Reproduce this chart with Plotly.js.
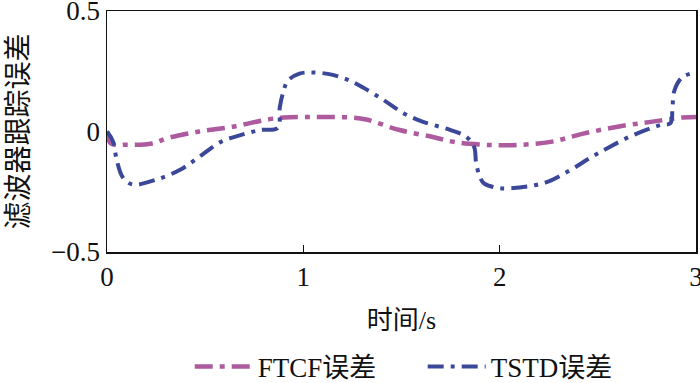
<!DOCTYPE html>
<html>
<head>
<meta charset="utf-8">
<script src="https://cdn.plot.ly/plotly-3.0.1.min.js"></script>
<style>html,body{margin:0;padding:0;background:#fff;}#chart{width:700px;height:383px;}</style>
</head>
<body>
<div id="chart"></div>
<script>
const ftcfT = [0, 0.02, 0.1, 0.23, 0.31, 0.47, 0.64, 0.82, 0.9, 1.0, 1.1, 1.24, 1.32, 1.49, 1.66, 1.78, 1.92, 2.0, 2.09, 2.26, 2.42, 2.6, 2.77, 2.93, 3.0];
const ftcfV = [0, -0.05, -0.055, -0.05, -0.027, 0, 0.02, 0.05, 0.058, 0.06, 0.06, 0.058, 0.05, 0.006, -0.023, -0.045, -0.055, -0.057, -0.056, -0.043, -0.01, 0.02, 0.04, 0.058, 0.06];

const tstdT = [0, 0.03, 0.05, 0.08, 0.13, 0.25, 0.37, 0.47, 0.58, 0.68, 0.78, 0.87, 0.88, 0.9, 0.92, 0.98, 1.05, 1.15, 1.24, 1.31, 1.41, 1.51, 1.61, 1.75, 1.83, 1.87, 1.88, 1.9, 1.92, 2.0, 2.12, 2.24, 2.36, 2.46, 2.56, 2.68, 2.82, 2.87, 2.88, 2.89, 2.93, 3.0];
const tstdV = [0, -0.04, -0.12, -0.19, -0.22, -0.2, -0.16, -0.105, -0.043, -0.015, 0.006, 0.015, 0.1, 0.17, 0.21, 0.24, 0.245, 0.235, 0.21, 0.18, 0.13, 0.076, 0.04, 0.006, -0.022, -0.064, -0.13, -0.19, -0.215, -0.235, -0.23, -0.21, -0.16, -0.11, -0.064, -0.015, 0.027, 0.035, 0.1, 0.17, 0.225, 0.245];

const names = ['FTCF误差', 'TSTD误差'];
const xTicks = [0, 1, 2, 3];
const yTicks = [-0.5, 0, 0.5];
const yTickText = ['−0.5', '0', '0.5'];

const traces = [
  {x: ftcfT, y: ftcfV, name: names[0], mode: 'lines', line: {color: '#ad5a9e', width: 4.5, dash: '18px,7px,5px,7px', shape: 'spline'}},
  {x: tstdT, y: tstdV, name: names[1], mode: 'lines', line: {color: '#3b4899', width: 4, dash: '16px,7px,4px,7px', shape: 'spline'}}
];

const fam = "'Liberation Serif', 'Times New Roman', 'Noto Sans CJK SC', serif";

const layout = {
  width: 700, height: 383,
  margin: {l: 107, r: 4, t: 11, b: 131},
  paper_bgcolor: '#fff', plot_bgcolor: '#fff',
  font: {family: fam, size: 24, color: '#111'},
  showlegend: true,
  legend: {orientation: 'h', xref: 'container', yref: 'container', x: 0.271, xanchor: 'left', y: 0.042, yanchor: 'middle', font: {family: fam, size: 27, color: '#111'}, itemwidth: 58, entrywidth: 160, entrywidthmode: 'pixels'},
  xaxis: {
    range: [0, 3], tickvals: xTicks, ticktext: xTicks.map(String),
    ticks: 'inside', ticklen: 7, tickwidth: 1.5, tickcolor: '#111',
    showline: true, linecolor: '#111', linewidth: 1.5, mirror: true,
    showgrid: false, zeroline: false, ticklabeloverflow: 'allow',
    tickfont: {family: fam, size: 27, color: '#111'},
    title: {text: '时间/s', standoff: 20, font: {family: fam, size: 26, color: '#111'}}
  },
  yaxis: {
    range: [-0.5, 0.5], tickvals: yTicks, ticktext: yTickText,
    ticks: '', showline: true, linecolor: '#111', linewidth: 1.5, mirror: true,
    showgrid: false, zeroline: false, ticklabeloverflow: 'allow',
    tickfont: {family: fam, size: 27, color: '#111'},
    title: {text: '滤波器跟踪误差', standoff: 14, font: {family: fam, size: 28, color: '#111'}}
  }
};

Plotly.newPlot('chart', traces, layout, {staticPlot: true, displayModeBar: false});
</script>
</body>
</html>
